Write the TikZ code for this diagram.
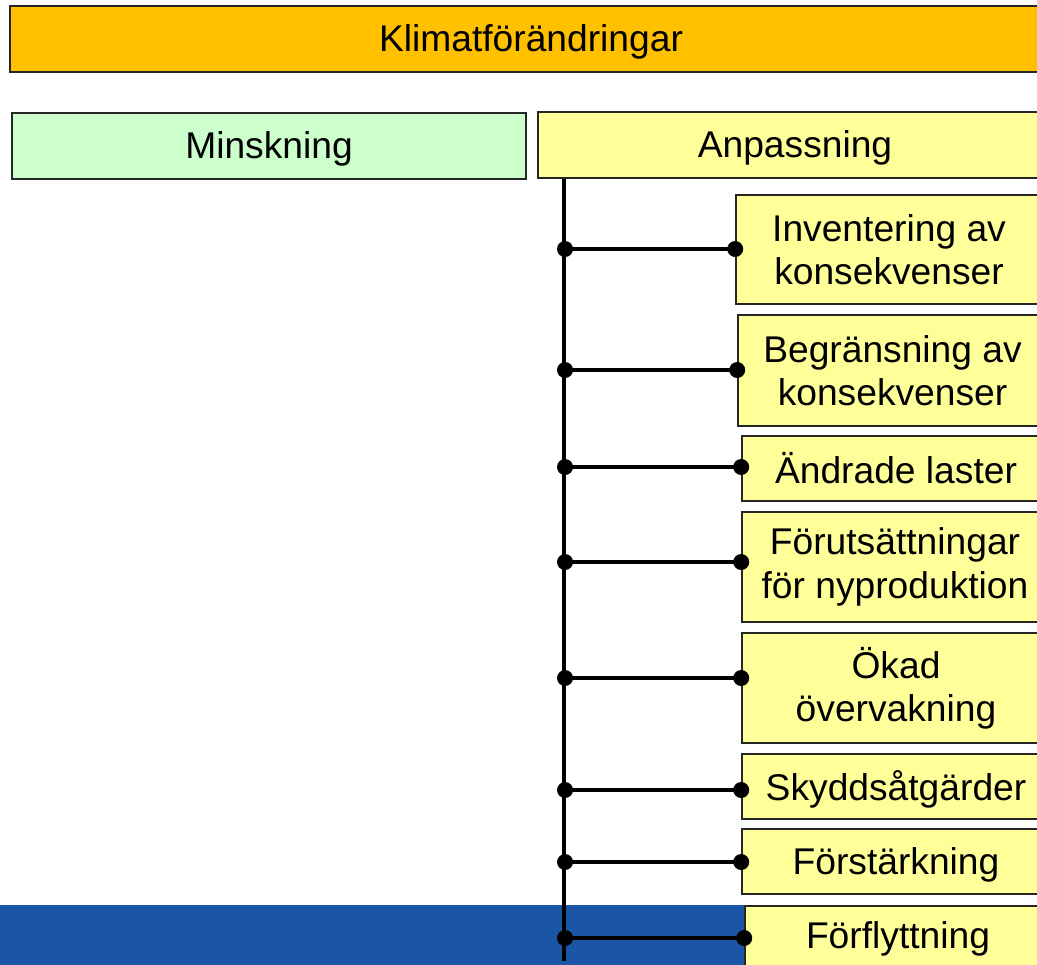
\documentclass[tikz,border=0pt]{standalone}
\usepackage{fontspec}
\setmainfont{Liberation Sans}
\definecolor{orangebox}{RGB}{255,192,0}
\definecolor{greenbox}{RGB}{204,255,204}
\definecolor{yellowbox}{RGB}{255,255,153}
\definecolor{bandblue}{RGB}{27,85,165}
\newcommand\lowertext[1]{\raisebox{-2.5pt}[\height][\depth]{#1}}
\begin{document}
\begin{tikzpicture}[x=0.75pt,y=-0.75pt,
  box/.style={draw=black!85, line width=1.2pt, inner sep=0pt, align=center,
    font=\fontsize{27.9}{32.5}\selectfont},
  ybox/.style={box, fill=yellowbox},
  conn/.style={line width=2.3pt, black},
  dot/.style={fill=black}]
\useasboundingbox (0,0) rectangle (1037,964);
\clip (0,0) rectangle (1037,964);
% blue band
\fill[bandblue] (0,905) rectangle (745,970);
% header boxes
\node[box, fill=orangebox, minimum width=781.5pt, minimum height=49.5pt] (klimat) at (531,39) {\lowertext{Klimatförändringar}};
\node[box, fill=greenbox, minimum width=385.5pt, minimum height=49.5pt] (mins) at (269,146) {\lowertext{Minskning}};
\node[ybox, minimum width=385.5pt, minimum height=49.5pt] (anp) at (795,145) {\lowertext{Anpassning}};
% measure boxes
\node[ybox, minimum width=229.5pt, minimum height=81.75pt] (b1) at (889,249.5) {Inventering av\\konsekvenser};
\node[ybox, minimum width=231.75pt, minimum height=83.25pt] (b2) at (892.5,370.5) {Begränsning av\\konsekvenser};
\node[ybox, minimum width=231pt, minimum height=48.75pt] (b3) at (896,468.5) {Ändrade laster};
\node[ybox, minimum width=229.5pt, minimum height=82.5pt] (b4) at (895,567) {Förutsättningar\\för nyproduktion};
\node[ybox, minimum width=231pt, minimum height=82.5pt] (b5) at (896,688) {Ökad\\övervakning};
\node[ybox, minimum width=231pt, minimum height=48.75pt] (b6) at (896,786.5) {\lowertext{Skyddsåtgärder}};
\node[ybox, minimum width=231pt, minimum height=48.75pt] (b7) at (896,861.5) {\lowertext{Förstärkning}};
\node[ybox, minimum width=229.5pt, minimum height=48.75pt] (b8) at (898,938.5) {Förflyttning};
% trunk
\coordinate (trunkTop) at (anp.south -| 564,0);
\coordinate (trunkEnd) at (564,961);
\draw[conn] (trunkTop) -- (trunkEnd);
% branches
\foreach \i/\yy in {1/249,2/370,3/467,4/562,5/678,6/790,7/862,8/938}{
  \coordinate (j\i) at (565,\yy);
  \draw[conn] (j\i) -- (j\i -| b\i.west);
  \fill[dot] (j\i) circle[radius=6pt];
  \fill[dot] (j\i -| b\i.west) circle[radius=6pt];
}
\end{tikzpicture}
\end{document}
